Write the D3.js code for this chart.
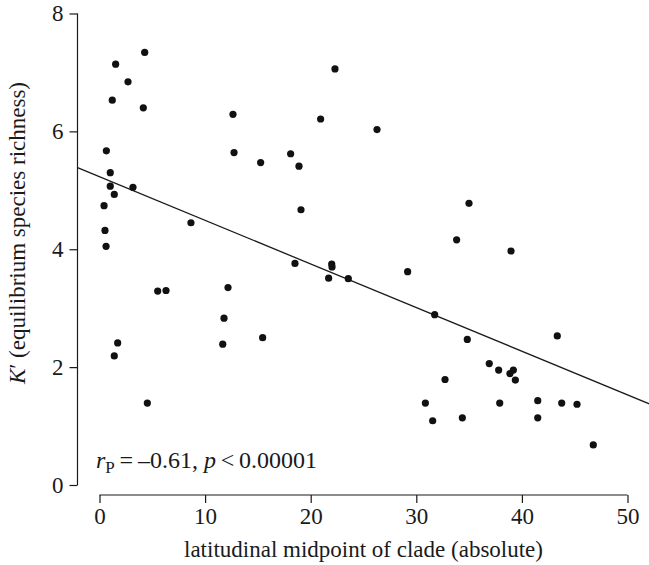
<!DOCTYPE html>
<html>
<head>
<meta charset="utf-8">
<script src="https://cdn.jsdelivr.net/npm/d3@7"></script>
<style>
  body { margin: 0; background: #fff; }
  svg text { font-family: "Liberation Serif", "Times New Roman", serif; fill: #1a1a1a; }
</style>
</head>
<body>
<div id="chart"></div>
<script>
// latitude midpoint (absolute) vs K' for each clade
var latitude = [4.28, 1.53, 2.70, 1.21, 4.15, 12.64, 0.65, 12.74, 15.26, 1.02, 1.02, 3.17, 1.40, 0.43, 8.66, 0.52, 0.62,
  5.51, 6.30, 12.17, 1.72, 1.40, 11.79, 11.67, 15.45, 4.53,
  22.30, 20.94, 26.28, 18.10, 18.89, 19.08, 34.99, 33.82,
  18.51, 21.99, 22.02, 21.70, 23.56, 29.18, 31.74, 34.83, 32.72, 30.86, 31.55, 34.36,
  38.97, 43.35, 36.91, 37.80, 38.87, 39.19, 39.38, 37.90, 41.50, 43.77, 45.22, 41.50, 46.76];
var richness = [7.34, 7.14, 6.84, 6.53, 6.40, 6.29, 5.67, 5.64, 5.47, 5.30, 5.07, 5.05, 4.93, 4.74, 4.45, 4.32, 4.05,
  3.29, 3.30, 3.35, 2.41, 2.19, 2.83, 2.39, 2.50, 1.39,
  7.06, 6.21, 6.03, 5.62, 5.41, 4.67, 4.78, 4.16,
  3.76, 3.75, 3.70, 3.51, 3.50, 3.62, 2.89, 2.47, 1.79, 1.39, 1.09, 1.14,
  3.97, 2.53, 2.06, 1.95, 1.89, 1.95, 1.78, 1.39, 1.43, 1.39, 1.37, 1.14, 0.68];
var xTicks = [0, 10, 20, 30, 40, 50];
var yTicks = [0, 2, 4, 6, 8];
// fitted regression line
var fitIntercept = 5.23;
var fitSlope = -0.0740;

var serif = "'Liberation Serif', 'Times New Roman', serif";
var fs = "23px";

var width = 649, height = 565;
var svg = d3.select("#chart").append("svg")
  .attr("width", width)
  .attr("height", height);

var x = d3.scaleLinear().domain([0, 50]).range([99.5, 627.5]);
var y = d3.scaleLinear().domain([0, 8]).range([485, 13.5]);
var xLo = x.invert(77.5), xHi = x.invert(649.5);

svg.append("defs").append("clipPath").attr("id", "plotclip")
  .append("rect")
  .attr("x", 77.5).attr("y", 3)
  .attr("width", 649.5 - 77.5).attr("height", 495 - 3);

// x axis
var xAxis = svg.append("g")
  .attr("transform", "translate(0,495)")
  .call(d3.axisBottom(x).tickValues(xTicks).tickSize(8).tickPadding(5).tickFormat(d3.format("d")));
// y axis
var yAxis = svg.append("g")
  .attr("transform", "translate(77.5,0)")
  .call(d3.axisLeft(y).tickValues(yTicks).tickSize(8).tickPadding(6).tickFormat(d3.format("d")));

[xAxis, yAxis].forEach(function(g) {
  g.attr("font-family", serif).attr("font-size", fs);
  g.select(".domain").attr("stroke", "#1a1a1a").attr("stroke-width", 1.2);
  g.selectAll(".tick line").attr("stroke", "#1a1a1a").attr("stroke-width", 1.2);
  g.selectAll(".tick text").attr("fill", "#1a1a1a");
});
// R style: domain line only between outer ticks
xAxis.select(".domain").attr("d", "M" + x(0) + ",0H" + x(50));
yAxis.select(".domain").attr("d", "M0," + y(0) + "V" + y(8));

// regression line
svg.append("path")
  .datum([xLo, xHi])
  .attr("clip-path", "url(#plotclip)")
  .attr("fill", "none")
  .attr("stroke", "#1a1a1a")
  .attr("stroke-width", 1.3)
  .attr("d", d3.line()
    .x(function(d) { return x(d); })
    .y(function(d) { return y(fitIntercept + fitSlope * d); }));

// points
svg.append("g").selectAll("circle")
  .data(d3.range(latitude.length))
  .join("circle")
  .attr("cx", function(i) { return x(latitude[i]); })
  .attr("cy", function(i) { return y(richness[i]); })
  .attr("r", 3.6)
  .attr("fill", "#111");

// annotation
var note = svg.append("text")
  .attr("x", 96).attr("y", 468)
  .attr("font-family", serif)
  .attr("font-size", "24px");
note.append("tspan").style("font-style", "italic").text("r");
note.append("tspan").attr("dy", 5).attr("font-size", "17px").text("P");
note.append("tspan").attr("dy", -5).text("\u2009=\u2009\u20130.61, ");
note.append("tspan").style("font-style", "italic").text("p");
note.append("tspan").text("\u2009<\u20090.00001");

// axis titles
svg.append("text")
  .attr("x", x(25)).attr("y", 557)
  .attr("text-anchor", "middle")
  .attr("font-family", serif)
  .attr("font-size", fs)
  .text("latitudinal midpoint of clade (absolute)");

var ylab = svg.append("text")
  .attr("transform", "translate(25,233) rotate(-90)")
  .attr("text-anchor", "middle")
  .attr("font-family", serif)
  .attr("font-size", fs);
ylab.append("tspan").style("font-style", "italic").text("K");
ylab.append("tspan").text("\u2032 (equilibrium species richness)");
</script>
</body>
</html>
